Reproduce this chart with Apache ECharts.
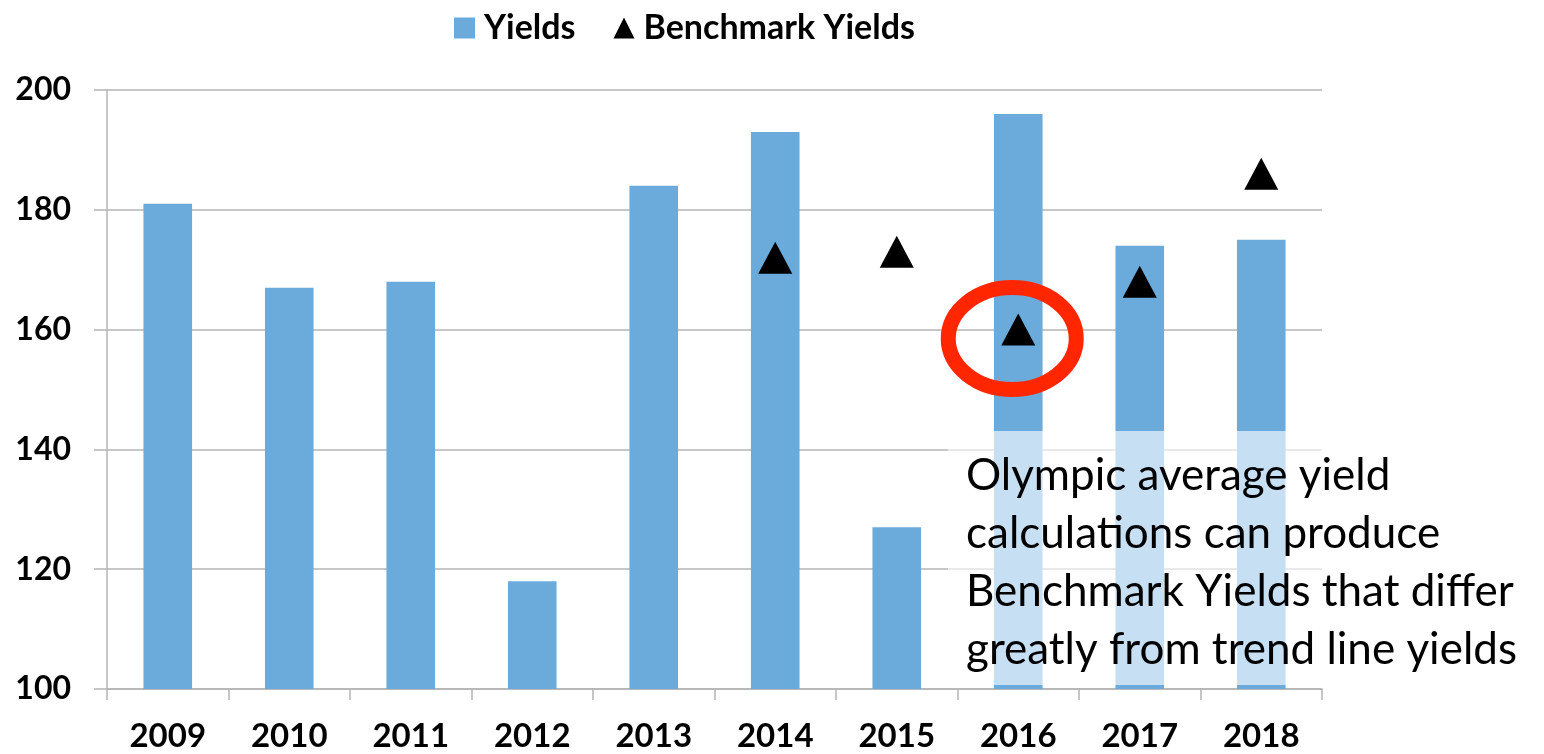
<!DOCTYPE html>
<html>
<head>
<meta charset="utf-8">
<title>Yields</title>
<script src="https://cdn.jsdelivr.net/npm/echarts@6/dist/echarts.min.js"></script>
<style>
  html, body { margin: 0; padding: 0; background: #fff; }
  #main { width: 1544px; height: 754px; }
</style>
</head>
<body>
<div id="main"></div>
<script>
// data
var years = ['2009', '2010', '2011', '2012', '2013', '2014', '2015', '2016', '2017', '2018'];
var yields = [181, 167, 168, 118, 184, 193, 127, 196, 174, 175];
var benchmarkYields = [null, null, null, null, null, 172, 173, 160, 168, 186];
var yTicks = { min: 100, max: 200, step: 20 };
var noteText = 'Olympic average yield\ncalculations can produce\nBenchmark Yields that differ\ngreatly from trend line yields';

var FONT = 'Lato, "Open Sans", sans-serif';
var GRID = '#b4b4b4';

var chart = echarts.init(document.getElementById('main'));

var option = {
    animation: false,
    legend: {
        top: 6,
        left: 449,
        itemGap: 38,
        itemWidth: 21,
        itemHeight: 21,
        textStyle: { fontFamily: FONT, fontWeight: 'bold', fontSize: 34, color: '#000', padding: [0, 0, 0, 4] },
        data: [
            { name: 'Yields', icon: 'rect' },
            { name: 'Benchmark Yields', icon: 'triangle' }
        ]
    },
    grid: { left: 107, right: 222, top: 90, bottom: 65, containLabel: false },
    xAxis: {
        type: 'category',
        data: years,
        boundaryGap: true,
        axisLine: { lineStyle: { color: GRID, width: 1.5 } },
        axisTick: { show: true, length: 11, lineStyle: { color: GRID, width: 1.5 } },
        axisLabel: { margin: 31, fontFamily: FONT, fontWeight: 'bold', fontSize: 33, color: '#000' }
    },
    yAxis: {
        type: 'value',
        min: yTicks.min,
        max: yTicks.max,
        interval: yTicks.step,
        axisLine: { show: true, lineStyle: { color: GRID, width: 1.5 } },
        axisTick: { show: true, length: 13, lineStyle: { color: GRID, width: 1.5 } },
        axisLabel: { margin: 36, fontFamily: FONT, fontWeight: 'bold', fontSize: 32, color: '#000' },
        splitLine: { show: true, lineStyle: { color: GRID, width: 1.5 } }
    },
    series: [
        {
            name: 'Yields',
            type: 'bar',
            data: yields,
            barWidth: '40%',
            itemStyle: { color: '#6aabdc' }
        },
        {
            name: 'Benchmark Yields',
            type: 'scatter',
            data: benchmarkYields,
            symbol: 'triangle',
            symbolSize: [34, 32],
            itemStyle: { color: '#000', opacity: 1 },
            z: 5
        }
    ]
};

chart.setOption(option);

// annotation: red ellipse round the 2016 benchmark, and the note box
var c = chart.convertToPixel({ seriesIndex: 1 }, ['2016', 158.5]);
chart.setOption({
    graphic: [
        {
            type: 'ellipse',
            z: 100,
            shape: { cx: c[0] - 6, cy: c[1], rx: 64, ry: 51 },
            style: { fill: 'none', stroke: '#ff2600', lineWidth: 15 }
        },
        {
            type: 'rect',
            z: 100,
            shape: { x: 948, y: 431, width: 590, height: 254 },
            style: { fill: 'rgba(255,255,255,0.62)' }
        },
        {
            type: 'text',
            z: 101,
            x: 966,
            y: 447,
            style: {
                text: noteText,
                fontFamily: FONT,
                fontSize: 44,
                lineHeight: 58,
                fill: '#000'
            }
        }
    ]
});
</script>
</body>
</html>
